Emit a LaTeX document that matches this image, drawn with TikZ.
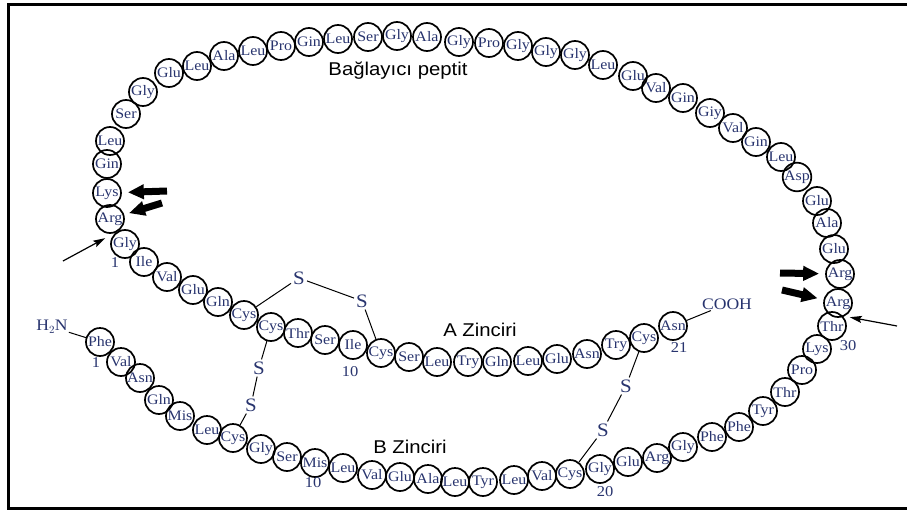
\documentclass[tikz,border=0pt]{standalone}
\usepackage{fontspec}
\setmainfont{Liberation Serif}[FakeStretch=1.1]
\newfontfamily\labelsans{Liberation Sans}[FakeStretch=1.1]
\usetikzlibrary{arrows.meta,calc}
\definecolor{restext}{RGB}{40,52,110}
\begin{document}
\begin{tikzpicture}[x=1pt,y=-1pt,
  res/.style={circle,draw,line width=1.7pt,minimum size=28pt,inner sep=0pt,text=restext,font=\fontsize{14.5}{14}\selectfont},
  sulf/.style={text=restext,font=\fontsize{19}{19}\selectfont,inner sep=2pt},
  num/.style={text=restext,font=\fontsize{15}{15}\selectfont,inner sep=1pt},
  chain/.style={font=\labelsans\fontsize{18.5}{18.5}\selectfont,inner sep=0pt},
  bond/.style={line width=1pt},
  fat/.style={line width=7pt,-{Triangle[length=16pt,width=14pt]}},
  thin/.style={line width=1.2pt,-{Stealth[length=12pt,width=7pt,inset=2pt]}}]
\useasboundingbox (0,0) rectangle (907,511);
\draw[line width=3pt] (915,5) -- (8,5) -- (8,508) -- (915,508);

% A chain
\foreach \n/\x/\y/\t in {a1/125/244/Gly,a2/144/262/Ile,a3/167/277/Val,a4/193/290/Glu,a5/218/302/Gln,
  a6/244/315/Cys,a7/271/327/Cys,a8/298/333/Thr,a9/325/340/Ser,a10/353/345/Ile,a11/381/353/Cys,
  a12/409/357/Ser,a13/437/362/Leu,a14/468/362/Try,a15/497/362/Gln,a16/528/361/Leu,a17/557/359/Glu,
  a18/587/354/Asn,a19/616/345/Try,a20/644/338/Cys,a21/673/326/Asn}
  \node[res] (\n) at (\x,\y) {\t};

% B chain
\foreach \n/\x/\y/\t in {b1/100/342/Phe,b2/121/362/Val,b3/140/378/Asn,b4/159/400/Gln,b5/180/416/Mis,
  b6/207/430/Leu,b7/233/438/Cys,b8/261/449/Gly,b9/287/457/Ser,b10/315/463/Mis,b11/343/468/Leu,
  b12/372/475/Val,b13/400/477/Glu,b14/428/479/Ala,b15/455/482/Leu,b16/483/482/Tyr,b17/514/480/Leu,
  b18/542/476/Val,b19/570/474/Cys,b20/600/469/Gly,b21/628/462/Glu,b22/657/458/Arg,b23/683/447/Gly,
  b24/712/437/Phe,b25/739/427/Phe,b26/763/411/Tyr,b27/785/392/Thr,b28/802/370/Pro,b29/817/349/Lys,
  b30/832/326/Thr}
  \node[res] (\n) at (\x,\y) {\t};

% connecting peptide
\foreach \n/\x/\y/\t in {rArgA/838/303/Arg,rArgB/840/274/Arg,c3/834/249/Glu,c4/827/223/Ala,c5/817/201/Glu,
  c6/797/177/Asp,c7/781/157/Leu,c8/756/142/Gin,c9/733/128/Val,c10/710/113/Giy,c11/683/98/Gin,
  c12/656/88/Val,c13/633/76/Glu,c14/603/65/Leu,c15/575/55/Gly,c16/546/52/Gly,c17/518/46/Gly,
  c18/489/43/Pro,c19/459/42/Gly,c20/427/37/Ala,c21/397/36/Gly,c22/368/37/Ser,c23/338/39/Leu,
  c24/309/42/Gin,c25/281/46/Pro,c26/253/51/Leu,c27/224/56/Ala,c28/197/66/Leu,c29/169/73/Glu,
  c30/143/92/Gly,c31/126/114/Ser,c32/110/141/Leu,c33/107/164/Gin,lLys/107/193/Lys,lArg/110/219/Arg}
  \node[res] (\n) at (\x,\y) {\t};

% sulfur atoms
\node[sulf] (s1) at (299,278) {S};
\node[sulf] (s2) at (362,301) {S};
\node[sulf] (s3) at (259,368) {S};
\node[sulf] (s4) at (251,405) {S};
\node[sulf] (s5) at (626,386) {S};
\node[sulf] (s6) at (603,430) {S};
\draw[bond] (a6) -- (s1) -- (s2) -- (a11);
\draw[bond] (a7) -- (s3) -- (s4) -- (b7);
\draw[bond] (a20) -- (s5) -- (s6) -- (b19);

% ends
\node[num,font=\fontsize{16}{16}\selectfont] (h2n) at (52,327) {H$_2$N};
\node[num,font=\fontsize{16}{16}\selectfont] (cooh) at (727,304) {COOH};
\draw[bond] (h2n) -- (b1);
\draw[bond] (a21) -- (cooh);

% numbers
\node[num] (nA1) at (115,263) {1};
\node[num] (nA10) at (350,372) {10};
\node[num] (nA21) at (679,348) {21};
\node[num] (nB1) at (96,363) {1};
\node[num] (nB10) at (313,483) {10};
\node[num] (nB20) at (605,492) {20};
\node[num] (nB30) at (848,346) {30};

% chain labels
\node[chain] (tC) at (398,71) {Bağlayıcı peptit};
\node[chain] (tA) at (480,330) {A Zinciri};
\node[chain] (tB) at (410,447) {B Zinciri};

% arrows
\coordinate (kL) at (167,191);
\coordinate (kA) at (162,203);
\coordinate (kR1) at (780,273);
\coordinate (kR2) at (782,290);
\coordinate (tL) at (63,261);
\coordinate (tR) at (897,326);
\coordinate (jL) at ($(lArg)!0.5!(a1)$);
\coordinate (jR) at ($(rArgA)!0.5!(b30)$);
\draw[fat,shorten >=6pt] (kL) -- (lLys);
\draw[fat,shorten >=5pt] (kA) -- (lArg);
\draw[fat,shorten >=6pt] (kR1) -- (rArgB);
\draw[fat,shorten >=6pt] (kR2) -- (rArgA);
\draw[thin,shorten >=14pt] (tL) -- (jL);
\draw[thin,shorten >=15pt] (tR) -- (jR);
\end{tikzpicture}
\end{document}
